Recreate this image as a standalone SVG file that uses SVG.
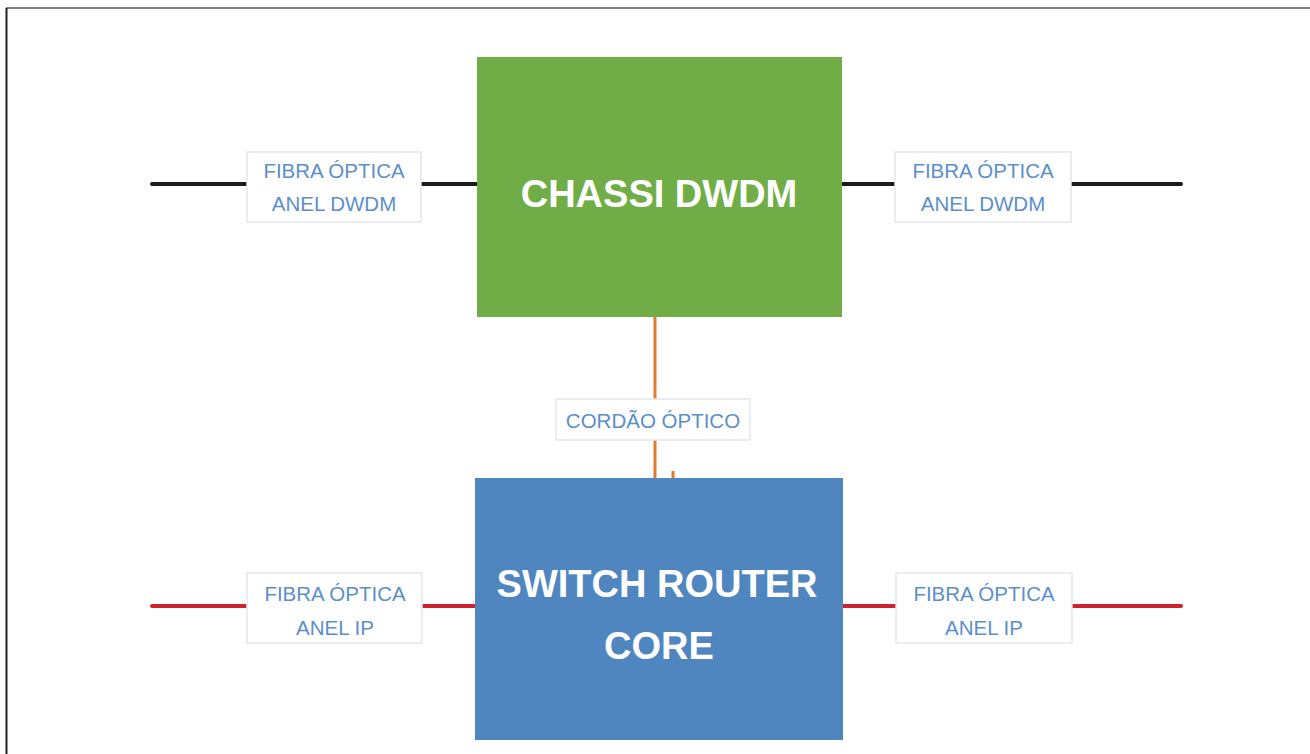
<svg xmlns="http://www.w3.org/2000/svg" width="1310" height="754" viewBox="0 0 1310 754">
<style>
.lbl{fill:#ffffff;stroke:#e2e6ec;stroke-width:1.5}
.lt{font-family:"Liberation Sans",Arial,sans-serif;font-size:20.5px;fill:#5b8fca;text-anchor:middle}
.nt{font-family:"Liberation Sans",Arial,sans-serif;font-weight:bold;font-size:38px;fill:#ffffff;text-anchor:middle}
.blk{stroke:#1a1a1a;stroke-width:4;stroke-linecap:round}
.red{stroke:#d0222c;stroke-width:4;stroke-linecap:round}
.org{stroke:#e07b2e;stroke-width:3}
</style>
<rect width="1310" height="754" fill="#ffffff"/>
<line x1="6" y1="8" x2="1310" y2="8" stroke="#808080" stroke-width="2"/>
<line x1="6.5" y1="8" x2="6.5" y2="754" stroke="#222222" stroke-width="2"/>
<g id="connectors">
<line class="blk" x1="152" y1="184" x2="247" y2="184"/>
<line class="blk" x1="421" y1="184" x2="477" y2="184"/>
<line class="blk" x1="842" y1="184" x2="895" y2="184"/>
<line class="blk" x1="1071" y1="184" x2="1181" y2="184"/>
<line class="red" x1="152" y1="606" x2="247" y2="606"/>
<line class="red" x1="422" y1="606" x2="475" y2="606"/>
<line class="red" x1="843" y1="606" x2="896" y2="606"/>
<line class="red" x1="1072" y1="606" x2="1181" y2="606"/>
<line class="org" x1="655" y1="317" x2="655" y2="400"/>
<line class="org" x1="655" y1="440" x2="655" y2="478"/>
<line class="org" x1="673" y1="471" x2="673" y2="478"/>
</g>
<g id="chassi-dwdm">
<rect x="477" y="57" width="365" height="260" fill="#70ad47"/>
<text class="nt" x="659" y="207">CHASSI DWDM</text>
</g>
<g id="switch-router-core">
<rect x="475" y="478" width="368" height="262" fill="#4f86bf"/>
<text class="nt" x="657" y="597">SWITCH ROUTER</text>
<text class="nt" x="659" y="659">CORE</text>
</g>
<g id="label-dwdm-left">
<rect class="lbl" x="247" y="152" width="174" height="70"/>
<text class="lt" x="334" y="178">FIBRA ÓPTICA</text>
<text class="lt" x="334" y="211">ANEL DWDM</text>
</g>
<g id="label-dwdm-right">
<rect class="lbl" x="895" y="152" width="176" height="70"/>
<text class="lt" x="983" y="178">FIBRA ÓPTICA</text>
<text class="lt" x="983" y="211">ANEL DWDM</text>
</g>
<g id="label-ip-left">
<rect class="lbl" x="247" y="573" width="175" height="70"/>
<text class="lt" x="335" y="601">FIBRA ÓPTICA</text>
<text class="lt" x="335" y="635">ANEL IP</text>
</g>
<g id="label-ip-right">
<rect class="lbl" x="896" y="573" width="176" height="70"/>
<text class="lt" x="984" y="601">FIBRA ÓPTICA</text>
<text class="lt" x="984" y="635">ANEL IP</text>
</g>
<g id="label-cordao">
<rect class="lbl" x="556" y="399" width="194" height="41"/>
<text class="lt" x="653" y="428">CORDÃO ÓPTICO</text>
</g>
</svg>
